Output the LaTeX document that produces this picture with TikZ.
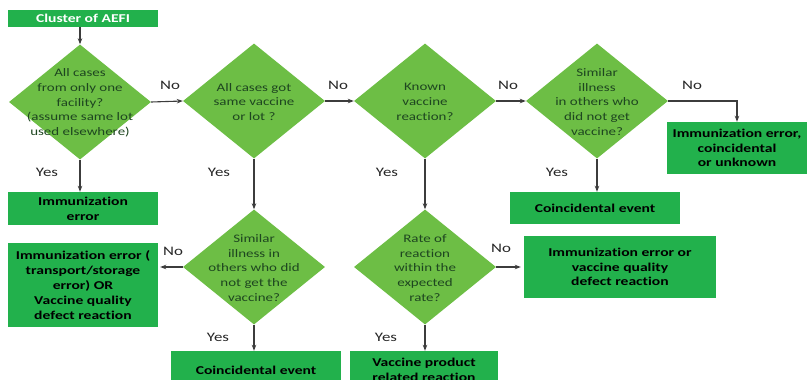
\documentclass[tikz,border=0pt]{standalone}
\usepackage{fontspec}
\setmainfont[FakeStretch=1.3,RawFeature=-liga]{Carlito}
\usetikzlibrary{shapes.geometric,arrows.meta}
\definecolor{boxgreen}{RGB}{34,177,76}
\definecolor{diagreen}{RGB}{109,190,69}
\definecolor{diatext}{RGB}{30,70,32}
\definecolor{linegrey}{RGB}{60,60,60}
\tikzset{
  x=1pt, y=-1pt,
  dia/.style={diamond, fill=diagreen, minimum width=142pt, minimum height=115pt, inner sep=0pt},
  diatxt/.style={align=center, text=diatext, font=\fontsize{11.5}{14.8}\selectfont, inner sep=0pt},
  outbox/.style={rectangle, fill=boxgreen, inner sep=0pt, align=center,
    font=\fontsize{12}{14.8}\selectfont\bfseries, text=black},
  lbl/.style={font=\fontsize{13}{15}\selectfont, text=black!85, inner sep=0pt},
  arr/.style={draw=linegrey, line width=1.1pt, -{Stealth[length=6pt,width=4.5pt]}},
}
\begin{document}
\begin{tikzpicture}
\useasboundingbox (0,0) rectangle (807,380);
\clip (0,0) rectangle (807,380);

% start box
\node[outbox, text=white, minimum width=150pt, minimum height=17pt] (start) at (83,18.5) {Cluster of AEFI};

% decision diamonds
\node[dia] (d1) at (80,102) {};
\node[diatxt] (d1t) at (80,103) {All cases\\from only one\\facility?\\(assume same lot\\used elsewhere)};
\node[dia] (d2) at (254,101) {};
\node[diatxt] (d2t) at (254,102) {All cases got\\same vaccine\\or lot ?};
\node[dia] (d3) at (425,101) {};
\node[diatxt] (d3t) at (425,102) {Known\\vaccine\\reaction?};
\node[dia] (d4) at (597,101) {};
\node[diatxt] (d4t) at (597,102) {Similar\\illness\\in others who\\did not get\\vaccine?};
\node[dia] (d5) at (254,267) {};
\node[diatxt] (d5t) at (254,268) {Similar\\illness in\\others who did\\not get the\\vaccine?};
\node[dia] (d6) at (425,267) {};
\node[diatxt] (d6t) at (425,268) {Rate of\\reaction\\within the\\expected\\rate?};

% outcome boxes
\node[outbox, minimum width=150pt, minimum height=33pt] (ie1) at (83,208.5) {Immunization\\error};
\node[outbox, minimum width=141pt, minimum height=52pt] (ue) at (737,148) {Immunization error,\\coincidental\\or unknown};
\node[outbox, minimum width=170pt, minimum height=32pt] (ce1) at (595,208) {Coincidental event};
\node[outbox, minimum width=150pt, minimum height=84pt] (ie2) at (83,285) {Immunization error (\\transport/storage\\error) OR\\Vaccine quality\\defect reaction};
\node[outbox, minimum width=192pt, minimum height=62pt] (ie3) at (620,267) {Immunization error or\\vaccine quality\\defect reaction};
\node[outbox, minimum width=170pt, minimum height=38pt] (ce2) at (256,370) {Coincidental event};
\node[outbox, minimum width=148pt, minimum height=38pt] (vp) at (424,370) {Vaccine product\\related reaction};

% connectors
\draw[arr] (start.south -| d1.north) -- (d1.north);
\draw[arr] (d1.south) -- (d1.south |- ie1.north);
\draw[arr] (d1.east) -- (d2.west);
\draw[arr] (d2.east) -- (d3.west);
\draw[arr] (d3.east) -- (d4.west);
\draw[arr] (d4.east) -| (ue.north);
\draw[arr] (d4.south) -- (d4.south |- ce1.north);
\draw[arr] (d2.south) -- (d5.north);
\draw[arr] (d3.south) -- (d6.north);
\draw[arr] (d5.west) -- ([xshift=2pt]ie2.east |- d5.west);
\draw[arr] (d5.south) -- (d5.south |- ce2.north);
\draw[arr] (d6.east) -- ([xshift=-3pt]ie3.west |- d6.east);
\draw[arr] (d6.south) -- (d6.south |- vp.north);

% branch labels
\node[lbl] (n1) at (170,85) {No};
\node[lbl] (n2) at (338,85) {No};
\node[lbl] (n3) at (508,85) {No};
\node[lbl] (n4) at (692,85) {No};
\node[lbl] (n5) at (173,251) {No};
\node[lbl] (n6) at (501,248) {No};
\node[lbl] (y1) at (47,172) {Yes};
\node[lbl] (y2) at (219,172) {Yes};
\node[lbl] (y3) at (387,172) {Yes};
\node[lbl] (y4) at (557,172) {Yes};
\node[lbl] (y5) at (218,337) {Yes};
\node[lbl] (y6) at (386,337) {Yes};
\end{tikzpicture}
\end{document}
